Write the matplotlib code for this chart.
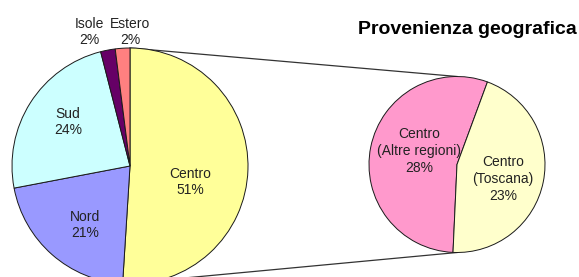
import numpy as np
import matplotlib.pyplot as plt

plt.rcParams['font.family'] = ['Liberation Sans', 'DejaVu Sans']

# Dati: provenienza geografica
categorie = ["Centro", "Nord", "Sud", "Isole", "Estero"]
percentuali = [51, 21, 24, 2, 2]
colori = ["#FFFF99", "#9999FF", "#CCFFFF", "#660066", "#FF8080"]

# Dettaglio del Centro
categorie_centro = ["Centro\n(Altre regioni)", "Centro\n(Toscana)"]
percentuali_centro = [28, 23]
colori_centro = ["#FF99CC", "#FFFFCC"]

W, H = 579, 277
fig = plt.figure(figsize=(W / 100, H / 100), dpi=100)
ax = fig.add_axes([0, 0, 1, 1])

bordo = dict(edgecolor="#1a1a1a", linewidth=0.7)

# torta principale
c1, r1 = (130, 111), 118
wedges1, _ = ax.pie(percentuali, colors=colori, startangle=90, counterclock=False,
                    center=c1, radius=r1, wedgeprops=bordo, frame=True)

# torta secondaria (dettaglio del settore Centro)
c2, r2 = (457, 112.5), 88
wedges2, _ = ax.pie(percentuali_centro, colors=colori_centro, startangle=-92.6,
                    counterclock=False, center=c2, radius=r2, wedgeprops=bordo, frame=True)

# linee di collegamento dal settore Centro alla seconda torta
w = wedges1[0]
for ang, yy in [(w.theta2, c2[1] + r2), (w.theta1, c2[1] - r2)]:
    x0 = c1[0] + r1 * np.cos(np.radians(ang))
    y0 = c1[1] + r1 * np.sin(np.radians(ang))
    ax.plot([x0, c2[0]], [y0, yy], color="#333333", lw=0.9, zorder=0)

# etichette
testo = dict(ha="center", va="center", fontsize=10, color="#222222", linespacing=1.25)
pos1 = [(190, 95), (85, 52), (68, 155), (89, 245), (130, 245)]
for nome, v, (x, y) in zip(categorie, percentuali, pos1):
    ax.text(x, y, f"{nome}\n{v}%", **testo)

pos2 = [(419, 126), (503, 98)]
for nome, v, (x, y) in zip(categorie_centro, percentuali_centro, pos2):
    ax.text(x, y, f"{nome}\n{v}%", **testo)

ax.text(467, 247, "Provenienza geografica", ha="center", va="center",
        fontsize=14, fontweight="bold", color="black")

ax.set_xlim(0, W)
ax.set_ylim(0, H)
ax.set_aspect("equal")
ax.axis("off")

fig.savefig("out.png", dpi=100, facecolor="white")
